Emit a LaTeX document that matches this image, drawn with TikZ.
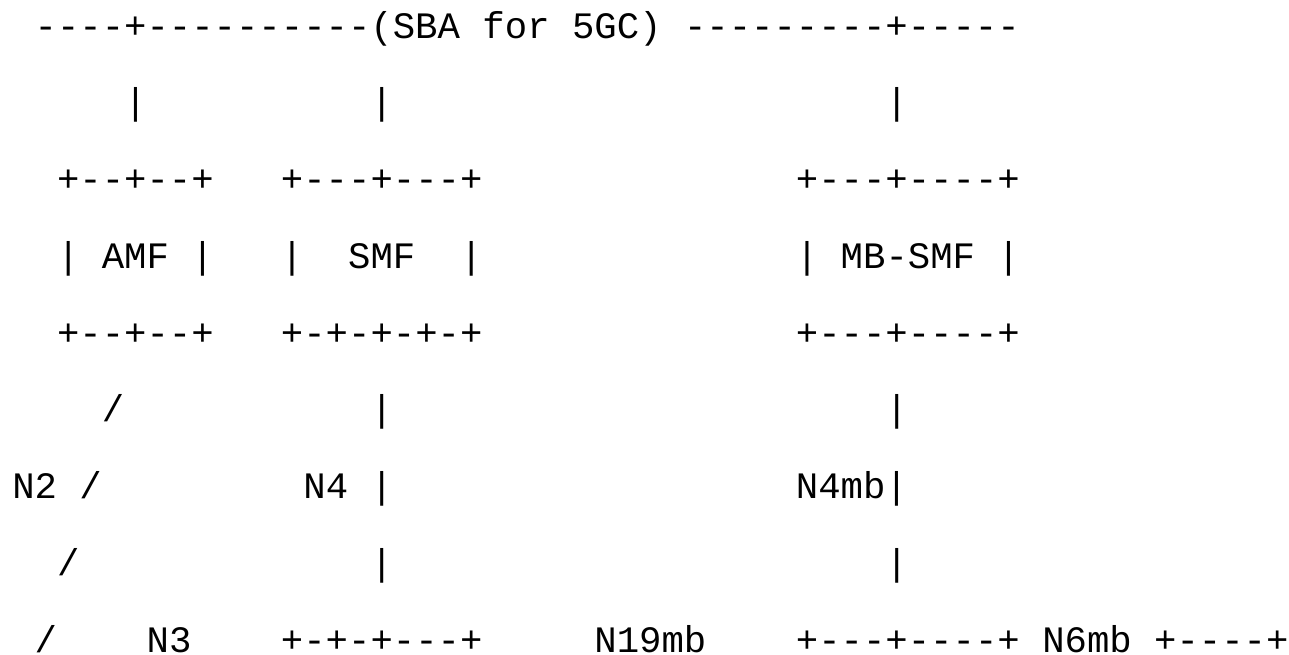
\documentclass[tikz,border=0pt]{standalone}
\usepackage{fontspec}
\setmonofont{Liberation Mono}
\begin{document}
\begin{tikzpicture}[x=1pt,y=-1pt,
  ascii/.style={anchor=base west,inner sep=0pt,outer sep=0pt,
    font=\ttfamily\fontsize{37.3}{40}\selectfont}]
% character grid: column width and row pitch of the monospaced layout
\def\cw{22.39}
\def\xo{12.3}
\def\yo{38}
\def\rh{76.75}
\newcommand\cellat[4]{\node[ascii] (#1) at ({\xo+#2*\cw},{\yo+#3*\rh}) {#4};}
\useasboundingbox (0,0) rectangle (1289,654);
% service-based bus
\cellat{busA}{1}{0}{----+----------(SBA}
\cellat{busB}{21}{0}{for}
\cellat{busC}{25}{0}{5GC)}
\cellat{busD}{30}{0}{---------+-----}
% drops from the bus
\cellat{dropamf}{5}{1}{|}
\cellat{dropsmf}{16}{1}{|}
\cellat{dropmb}{39}{1}{|}
% network function boxes
\cellat{amftop}{2}{2}{+--+--+}
\cellat{smftop}{12}{2}{+---+---+}
\cellat{mbtop}{35}{2}{+---+----+}
\cellat{amfl}{2}{3}{|}
\cellat{amf}{4}{3}{AMF}
\cellat{amfr}{8}{3}{|}
\cellat{smfl}{12}{3}{|}
\cellat{smf}{15}{3}{SMF}
\cellat{smfr}{20}{3}{|}
\cellat{mbl}{35}{3}{|}
\cellat{mbsmf}{37}{3}{MB-SMF}
\cellat{mbr}{44}{3}{|}
\cellat{amfbot}{2}{4}{+--+--+}
\cellat{smfbot}{12}{4}{+-+-+-+-+}
\cellat{mbbot}{35}{4}{+---+----+}
% reference points
\cellat{ntwoa}{4}{5}{/}
\cellat{nfoura}{16}{5}{|}
\cellat{nfmba}{39}{5}{|}
\cellat{ntwo}{0}{6}{N2}
\cellat{ntwob}{3}{6}{/}
\cellat{nfour}{13}{6}{N4}
\cellat{nfourb}{16}{6}{|}
\cellat{nfmb}{35}{6}{N4mb|}
\cellat{ntwoc}{2}{7}{/}
\cellat{nfourc}{16}{7}{|}
\cellat{nfmbc}{39}{7}{|}
% user plane row
\cellat{ntwod}{1}{8}{/}
\cellat{nthree}{6}{8}{N3}
\cellat{upf}{12}{8}{+-+-+---+}
\cellat{nnineteen}{26}{8}{N19mb}
\cellat{mbupf}{35}{8}{+---+----+}
\cellat{nsix}{46}{8}{N6mb}
\cellat{dn}{51}{8}{+----+}
\end{tikzpicture}
\end{document}
